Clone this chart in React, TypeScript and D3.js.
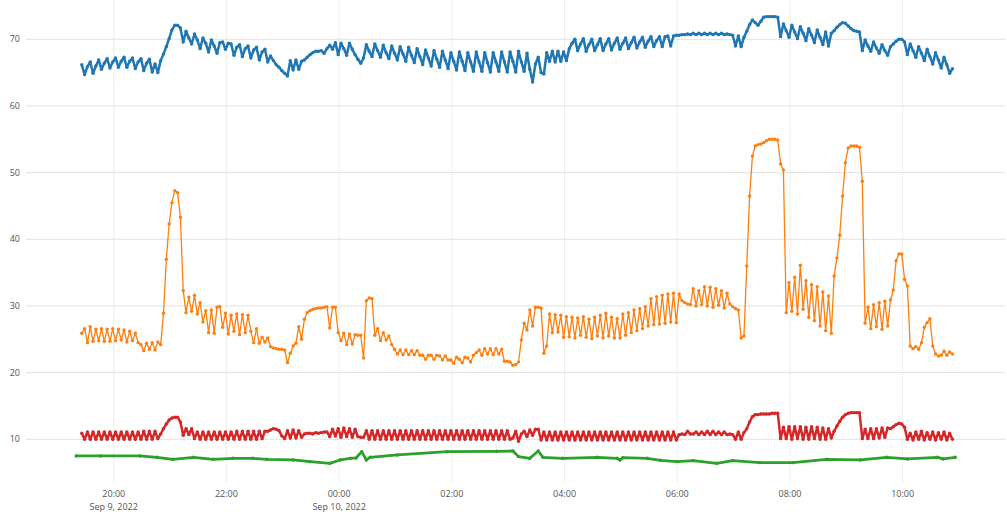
import { line, scaleLinear, scaleTime, timeFormat, timeHour } from "d3";

// readings every 3 minutes from 19:26, Sep 9 2022
const seriesStart = new Date(2022, 8, 9, 19, 26);
const stepMinutes = 3;

const blueValues = [
  66.2, 64.7, 65.9, 66.6, 64.9, 66.0, 66.9, 65.5, 66.4, 67.1,
  65.7, 66.6, 67.2, 65.8, 66.7, 67.3, 65.8, 66.7, 67.2, 65.6,
  66.6, 67.1, 65.3, 66.4, 67.0, 65.1, 66.3, 65.0, 66.8, 67.8,
  68.9, 70.1, 71.4, 72.1, 72.1, 71.7, 69.6, 71.2, 70.2, 69.3,
  70.8, 69.9, 68.6, 70.2, 69.4, 68.1, 69.9, 69.0, 67.9, 69.5,
  69.6, 68.5, 69.4, 69.3, 67.6, 68.8, 69.2, 67.4, 68.6, 69.0,
  67.2, 68.4, 68.8, 66.9, 68.1, 68.5, 66.6, 67.5, 66.8, 66.2,
  65.8, 65.3, 64.9, 64.5, 66.8, 65.4, 66.9, 65.5, 66.7, 66.9,
  67.3, 67.7, 68.0, 68.2, 68.2, 68.3, 67.9, 68.6, 69.1, 68.5,
  69.5, 67.7, 69.4, 68.6, 67.6, 69.4, 68.5, 67.7, 67.0, 66.4,
  67.2, 69.2, 68.2, 67.4, 69.3, 68.3, 67.3, 69.1, 68.0, 67.1,
  69.0, 67.9, 66.9, 68.9, 67.8, 66.7, 68.8, 67.6, 66.5, 68.6,
  67.4, 66.2, 68.4, 67.2, 66.0, 68.3, 67.0, 65.8, 68.2, 66.9,
  65.6, 68.0, 66.7, 65.4, 68.1, 66.7, 65.3, 68.0, 66.6, 65.2,
  68.1, 66.6, 65.2, 68.0, 66.5, 65.1, 68.0, 66.6, 65.2, 68.1,
  66.6, 65.1, 68.1, 66.7, 65.1, 68.2, 66.6, 65.2, 67.9, 65.5,
  63.6, 66.3, 67.3, 65.0, 64.8, 68.0, 66.7, 68.2, 66.6, 68.2,
  66.7, 68.1, 66.8, 68.6, 69.4, 70.0, 68.3, 69.3, 70.1, 68.2,
  69.2, 70.0, 68.3, 69.2, 70.1, 68.3, 69.3, 70.1, 68.4, 69.4,
  70.2, 68.5, 69.4, 70.2, 68.6, 69.5, 70.3, 68.7, 69.6, 70.3,
  68.8, 69.7, 70.4, 68.9, 69.8, 70.4, 68.9, 70.4, 70.5, 69.0,
  70.5, 70.6, 70.6, 70.7, 70.7, 70.8, 70.7, 70.9, 70.7, 70.9,
  70.7, 70.9, 70.7, 70.9, 70.7, 70.9, 70.7, 70.9, 70.7, 70.8,
  70.7, 70.6, 69.0, 70.5, 68.9, 70.3, 71.2, 72.2, 72.9, 72.5,
  72.1, 72.7, 73.3, 73.4, 73.4, 73.4, 73.4, 73.3, 70.4, 72.3,
  71.3, 70.3, 72.1, 71.1, 70.1, 71.9, 70.9, 69.8, 71.6, 70.6,
  69.5, 71.4, 70.3, 69.2, 71.1, 69.0, 70.9, 71.3, 71.8, 72.2,
  72.5, 72.4, 72.0, 71.6, 71.3, 71.2, 71.1, 68.3, 69.9, 69.0,
  68.2, 69.6, 68.7, 67.9, 69.2, 68.3, 67.6, 68.9, 69.3, 69.7,
  70.0, 70.0, 69.6, 67.7, 69.3, 68.3, 67.3, 68.9, 67.9, 66.8,
  68.5, 67.4, 66.3, 68.0, 66.9, 65.7, 67.3, 66.2, 64.9, 65.6,
];

const orangeValues = [
  25.9, 26.6, 24.5, 26.9, 24.7, 26.5, 24.8, 26.6, 24.7, 26.5,
  24.7, 26.6, 24.8, 26.5, 24.9, 26.4, 24.6, 26.2, 24.8, 25.9,
  24.5, 24.2, 23.3, 24.4, 23.5, 24.5, 23.4, 24.6, 24.2, 28.9,
  37.0, 42.3, 45.5, 47.3, 47.0, 43.3, 32.3, 29.0, 31.3, 29.2,
  31.6, 28.8, 30.5, 27.6, 29.3, 26.0, 29.4, 25.9, 29.8, 29.9,
  26.8, 28.9, 25.8, 28.6, 26.2, 28.8, 25.7, 28.7, 26.0, 28.6,
  26.2, 24.5, 26.6, 24.4, 25.3, 24.6, 25.2, 23.9, 23.7, 23.6,
  23.5, 23.5, 23.4, 21.5, 22.9, 24.0, 24.4, 26.9, 25.0, 28.0,
  29.0, 29.3, 29.5, 29.6, 29.7, 29.7, 29.8, 29.9, 26.7, 29.8,
  29.8, 26.0, 24.8, 25.9, 24.2, 25.8, 24.3, 25.7, 25.6, 25.6,
  22.2, 30.8, 31.2, 31.1, 25.6, 26.6, 24.8, 26.0, 24.9, 25.5,
  24.2, 23.5, 22.8, 23.4, 22.7, 23.4, 22.7, 23.3, 22.7, 23.3,
  22.6, 22.6, 22.0, 22.6, 22.6, 22.0, 22.6, 22.5, 21.9, 22.5,
  21.9, 21.9, 21.4, 22.3, 22.0, 21.5, 22.3, 22.2, 21.6, 22.6,
  23.0, 23.4, 22.6, 23.6, 22.8, 23.6, 22.7, 23.6, 22.8, 23.5,
  21.7, 21.7, 21.6, 21.1, 21.2, 21.6, 24.9, 27.4, 26.4, 29.4,
  27.0, 29.8, 29.8, 29.7, 22.9, 24.0, 28.8, 26.0, 28.7, 26.1,
  28.6, 25.3, 28.4, 25.4, 28.3, 25.2, 28.2, 25.6, 28.4, 25.3,
  28.0, 25.1, 28.3, 25.5, 28.6, 25.2, 28.9, 25.5, 28.3, 25.2,
  28.1, 25.2, 28.8, 25.6, 29.0, 26.0, 29.4, 26.3, 29.6, 26.6,
  29.9, 27.0, 31.1, 27.2, 31.4, 27.3, 31.6, 27.4, 31.8, 27.6,
  31.9, 27.5, 31.8, 30.8, 30.5, 30.3, 30.2, 32.6, 30.0, 32.3,
  30.2, 32.9, 30.0, 32.8, 29.8, 32.6, 30.1, 32.3, 29.7, 31.9,
  30.3, 29.9, 29.6, 29.4, 25.2, 25.5, 36.0, 46.5, 52.5, 54.0,
  54.2, 54.3, 54.5, 54.8, 55.0, 55.0, 55.0, 54.9, 51.3, 50.4,
  29.0, 33.5, 29.2, 34.3, 28.8, 36.1, 29.5, 33.8, 28.3, 33.2,
  27.8, 32.9, 27.0, 32.1, 26.3, 31.5, 25.9, 34.5, 37.2, 40.6,
  46.5, 51.5, 53.7, 54.0, 54.0, 54.0, 53.8, 48.7, 27.4, 29.8,
  26.6, 30.2, 26.9, 30.5, 26.5, 30.7, 27.0, 30.9, 32.4, 36.8,
  37.8, 37.8, 34.0, 33.0, 24.0, 23.6, 23.9, 23.5, 24.5, 26.8,
  27.5, 28.1, 24.0, 22.8, 22.5, 22.6, 23.2, 22.6, 23.1, 22.8,
];

const redValues = [
  10.9, 10.0, 11.1, 10.0, 11.1, 10.0, 11.1, 10.0, 11.1, 10.0,
  11.1, 10.0, 11.1, 10.0, 11.1, 10.0, 11.1, 10.0, 11.1, 10.0,
  11.1, 10.0, 11.2, 10.0, 11.2, 10.0, 11.2, 10.1, 10.8, 11.6,
  12.3, 12.9, 13.2, 13.3, 13.3, 12.6, 10.6, 11.6, 10.7, 11.6,
  10.1, 11.1, 10.0, 11.1, 10.0, 11.1, 10.0, 11.1, 10.0, 11.1,
  10.0, 11.1, 10.0, 11.1, 10.0, 11.2, 10.0, 11.2, 10.0, 11.2,
  10.0, 11.2, 10.0, 11.2, 10.1, 11.2, 11.2, 11.4, 11.6, 11.5,
  11.3, 10.5, 10.1, 11.3, 10.2, 11.4, 10.2, 11.3, 10.3, 10.8,
  10.9, 10.9, 10.8, 11.0, 10.9, 11.0, 11.1, 11.1, 10.4, 11.5,
  10.5, 11.6, 10.3, 11.7, 10.4, 11.6, 10.3, 11.5, 10.4, 10.3,
  10.3, 11.3, 10.0, 11.3, 10.0, 11.3, 10.0, 11.3, 10.0, 11.3,
  10.0, 11.3, 10.0, 11.3, 10.0, 11.3, 10.0, 11.3, 10.0, 11.3,
  10.0, 11.3, 10.0, 11.3, 10.0, 11.3, 10.0, 11.3, 10.0, 11.3,
  10.0, 11.3, 10.0, 11.3, 10.0, 11.3, 10.0, 11.3, 10.0, 11.3,
  10.0, 11.3, 10.0, 11.3, 10.0, 11.3, 10.0, 11.3, 10.0, 11.3,
  10.0, 11.3, 10.0, 10.2, 11.2, 9.7, 10.8, 11.2, 10.4, 11.4,
  10.6, 11.5, 11.5, 9.9, 11.1, 9.9, 11.1, 9.9, 11.1, 9.9,
  11.1, 9.9, 11.1, 9.9, 11.1, 9.9, 11.1, 9.9, 11.1, 9.9,
  11.1, 9.9, 11.1, 9.9, 11.1, 9.9, 11.1, 9.9, 11.1, 9.9,
  11.1, 9.9, 11.1, 9.9, 11.1, 9.9, 11.1, 9.9, 11.1, 9.9,
  11.1, 9.9, 11.1, 9.9, 11.1, 9.9, 11.1, 9.9, 11.1, 9.9,
  11.1, 9.9, 10.7, 10.8, 10.7, 11.2, 10.8, 10.8, 11.1, 10.7,
  11.1, 10.7, 11.2, 10.7, 11.2, 10.7, 11.1, 10.7, 11.1, 10.7,
  10.8, 10.7, 10.0, 11.1, 10.0, 11.0, 11.6, 12.6, 13.4, 13.7,
  13.7, 13.8, 13.8, 13.8, 13.8, 13.9, 13.9, 13.9, 10.1, 11.8,
  10.1, 11.9, 10.0, 11.9, 10.1, 11.9, 10.0, 11.8, 10.0, 11.9,
  10.1, 11.8, 10.0, 11.7, 10.0, 11.6, 10.2, 11.2, 12.0, 12.7,
  13.3, 13.7, 13.9, 14.0, 14.0, 14.0, 14.0, 10.1, 11.5, 10.1,
  11.6, 10.1, 11.6, 10.2, 11.7, 10.3, 11.7, 11.6, 11.9, 12.2,
  12.4, 12.3, 11.8, 10.0, 10.9, 9.9, 11.1, 10.0, 11.2, 9.9,
  11.0, 10.0, 11.1, 9.9, 11.0, 10.0, 11.1, 9.9, 10.9, 10.0,
];

// green is smoother: minutes after 19:20 and readings
const greenStart = new Date(2022, 8, 9, 19, 20);
const greenMinutes = [
  0, 26, 68, 86, 103, 125, 146, 167, 188, 203, 231, 249, 270, 281, 292, 298,
  304, 309, 313, 342, 395, 448, 465, 471, 483, 492, 497, 518, 555, 576, 579,
  582, 608, 622, 640, 657, 682, 699, 728, 763, 799, 835, 863, 885, 917, 923, 936,
];
const greenValues = [
  7.5, 7.5, 7.5, 7.3, 7.0, 7.3, 7.0, 7.15, 7.15, 7.0, 6.9, 6.65, 6.4, 6.9, 7.15, 7.2,
  8.15, 6.9, 7.3, 7.65, 8.15, 8.2, 8.25, 7.4, 7.15, 8.25, 7.3, 7.15, 7.3, 7.15, 6.9,
  7.25, 7.15, 6.85, 6.65, 6.8, 6.4, 6.8, 6.5, 6.5, 7.0, 6.9, 7.3, 7.05, 7.3, 7.05, 7.3,
];

const yTicks = [10, 20, 30, 40, 50, 60, 70];

const width = 1007;
const height = 531;
const plotLeft = 26;
const plotRight = 1005;
const plotBottom = 483;

type Pt = [Date, number];

const addMinutes = (d: Date, m: number) => new Date(d.getTime() + m * 60000);

const stepped = (vals: number[]): Pt[] =>
  vals.map((v, i) => [addMinutes(seriesStart, i * stepMinutes), v]);

export default function App() {
  const x = scaleTime()
    .domain([new Date(2022, 8, 9, 18, 0), new Date(2022, 8, 10, 12, 0)])
    .range([1.0, 1015.4]);
  const y = scaleLinear().domain([10, 70]).range([439.3, 39.3]);

  const series = [
    { name: "blue", color: "#1f77b4", width: 2.5, data: stepped(blueValues) },
    { name: "orange", color: "#ff7f0e", width: 1.3, data: stepped(orangeValues) },
    {
      name: "green",
      color: "#2ca02c",
      width: 2.8,
      data: greenMinutes.map((m, i) => [addMinutes(greenStart, m), greenValues[i]] as Pt),
    },
    { name: "red", color: "#d62728", width: 2.5, data: stepped(redValues) },
  ];

  const path = line<Pt>()
    .x((d) => x(d[0]))
    .y((d) => y(d[1]));

  const xTicks = x
    .ticks(timeHour.every(2)!)
    .filter((d) => x(d) > plotLeft && x(d) < plotRight);
  const fmtTime = timeFormat("%H:%M");
  const fmtDate = timeFormat("%b %-d, %Y");

  return (
    <svg
      width={width}
      height={height}
      style={{ position: "absolute", left: 0, top: 0, background: "#fff" }}
      fontFamily="'Open Sans', sans-serif"
    >
      {xTicks.map((d) => (
        <line
          key={"vg" + d.getTime()}
          x1={x(d)}
          x2={x(d)}
          y1={0}
          y2={plotBottom}
          stroke="#eeeeee"
          strokeWidth={1}
        />
      ))}
      {yTicks.map((t) => (
        <line
          key={"hg" + t}
          x1={plotLeft}
          x2={plotRight}
          y1={y(t)}
          y2={y(t)}
          stroke="#e2e2e2"
          strokeWidth={1}
        />
      ))}
      {yTicks.map((t) => (
        <text
          key={"yl" + t}
          x={20}
          y={y(t)}
          dy="0.35em"
          textAnchor="end"
          fontSize={9}
          fill="#555"
        >
          {t}
        </text>
      ))}
      {xTicks.map((d) => (
        <text
          key={"xl" + d.getTime()}
          x={x(d)}
          y={497}
          textAnchor="middle"
          fontSize={9}
          fill="#555"
        >
          {fmtTime(d)}
        </text>
      ))}
      {xTicks.map((d, i) =>
        i === 0 || d.getHours() === 0 ? (
          <text
            key={"xd" + d.getTime()}
            x={x(d)}
            y={509.5}
            textAnchor="middle"
            fontSize={9}
            fill="#555"
          >
            {fmtDate(d)}
          </text>
        ) : null
      )}
      {series.map((s) => (
        <g key={s.name}>
          <path
            d={path(s.data) ?? ""}
            fill="none"
            stroke={s.color}
            strokeWidth={s.width}
            strokeLinejoin="round"
          />
          {s.data.map((d, i) => (
            <circle key={i} cx={x(d[0])} cy={y(d[1])} r={1.7} fill={s.color} />
          ))}
        </g>
      ))}
    </svg>
  );
}
